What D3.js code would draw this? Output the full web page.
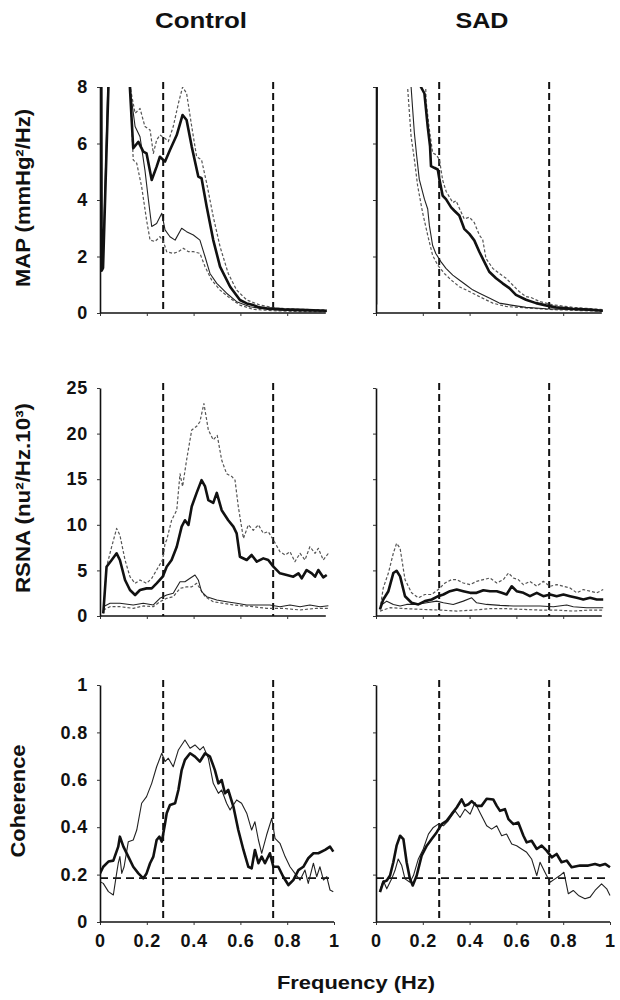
<!DOCTYPE html>
<html><head><meta charset="utf-8">
<script src="https://cdn.jsdelivr.net/npm/d3@7"></script>
<style>
body{margin:0;background:#fff}
svg{display:block}
text{font-family:"Liberation Sans",Arial,Helvetica,sans-serif;font-weight:bold;fill:#111}
</style>
</head><body>
<svg id="chart" width="620" height="1000"></svg>
<script>
// ---------------- data ----------------
const columns = ["Control", "SAD"];
const rowLabels = ["MAP (mmHg²/Hz)", "RSNA (nu²/Hz.10³)", "Coherence"];
const xLabel = "Frequency (Hz)";
const yMaxes = [8, 25, 1];
const yTickValues = [[0, 2, 4, 6, 8], [0, 5, 10, 15, 20, 25], [0, 0.2, 0.4, 0.6, 0.8, 1]];
const xTickValues = [0, 0.2, 0.4, 0.6, 0.8, 1];
const bandLimits = [0.27, 0.74];
const coherenceThreshold = 0.185;

// MAP spectra, Control
const mapControlThick = [[0.005,12],[0.007,1.5],[0.013,1.6],[0.036,8],[0.04,12],[0.122,12],[0.128,7.95],[0.142,5.83],[0.164,6.06],[0.185,5.71],[0.199,5.65],[0.221,4.71],[0.242,5.18],[0.256,5.53],[0.278,5.36],[0.299,5.77],[0.328,6.30],[0.353,7.01],[0.370,6.83],[0.392,5.89],[0.420,4.83],[0.434,4.77],[0.456,3.76],[0.484,2.58],[0.513,1.64],[0.556,0.93],[0.598,0.46],[0.627,0.34],[0.655,0.28],[0.68,0.2],[0.712,0.17],[0.783,0.13],[0.855,0.11],[0.969,0.08]];
const mapControlUpper = [[0.125,12],[0.131,7.9],[0.15,7.07],[0.171,7.24],[0.192,6.6],[0.214,6.48],[0.228,5.65],[0.242,6.12],[0.256,6.3],[0.278,6.18],[0.292,6.07],[0.313,6.6],[0.335,7.42],[0.353,8.0],[0.37,7.78],[0.392,6.6],[0.413,5.53],[0.434,5.42],[0.456,4.59],[0.484,3.41],[0.513,2.35],[0.548,1.4],[0.584,0.81],[0.627,0.46],[0.684,0.28],[0.755,0.17],[0.855,0.13],[0.969,0.11]];
const mapControlThin = [[0.004,12],[0.006,1.6],[0.012,1.7],[0.035,8.5],[0.04,12],[0.125,12],[0.131,7.78],[0.15,6.6],[0.171,6.24],[0.192,5.06],[0.207,4.0],[0.221,3.06],[0.242,3.17],[0.264,3.53],[0.278,2.94],[0.299,2.7],[0.321,2.58],[0.349,3.0],[0.37,2.88],[0.399,2.76],[0.427,2.58],[0.449,1.99],[0.470,1.4],[0.499,1.05],[0.541,0.7],[0.584,0.4],[0.641,0.22],[0.712,0.13],[0.826,0.08],[0.969,0.07]];
const mapControlLower = [[0.126,12],[0.131,7.54],[0.142,5.42],[0.157,5.3],[0.178,4.47],[0.199,3.29],[0.214,2.58],[0.235,2.53],[0.256,2.7],[0.271,2.53],[0.285,2.17],[0.313,2.11],[0.335,2.17],[0.356,2.29],[0.378,2.17],[0.399,2.17],[0.427,2.11],[0.449,1.64],[0.477,1.17],[0.513,0.81],[0.556,0.52],[0.598,0.28],[0.655,0.13],[0.741,0.08],[0.855,0.05],[0.969,0.05]];

// MAP spectra, SAD
const mapSadThick = [[0.0,0.3],[0.004,12],[0.186,12],[0.192,8.0],[0.207,7.77],[0.214,7.18],[0.221,6.6],[0.231,5.9],[0.235,5.2],[0.249,5.14],[0.264,5.08],[0.271,4.73],[0.285,4.15],[0.299,4.03],[0.321,3.74],[0.335,3.62],[0.356,3.45],[0.377,2.98],[0.399,2.8],[0.42,2.57],[0.442,2.16],[0.463,1.81],[0.484,1.46],[0.513,1.23],[0.541,1.05],[0.57,0.88],[0.598,0.64],[0.641,0.47],[0.684,0.35],[0.726,0.27],[0.769,0.2],[0.84,0.15],[0.912,0.12],[0.969,0.08]];
const mapSadUpper = [[0.2,12],[0.214,7.5],[0.228,6.5],[0.242,5.67],[0.257,5.6],[0.271,5.43],[0.285,4.7],[0.3,4.3],[0.328,3.91],[0.342,3.97],[0.377,3.33],[0.399,3.39],[0.42,3.2],[0.442,2.75],[0.456,2.6],[0.47,1.93],[0.499,1.58],[0.527,1.4],[0.556,1.23],[0.584,0.99],[0.612,0.76],[0.641,0.58],[0.662,0.55],[0.698,0.41],[0.755,0.29],[0.84,0.2],[0.969,0.12]];
const mapSadThin = [[0.145,12],[0.15,8.0],[0.157,7.18],[0.164,6.37],[0.174,5.55],[0.185,4.73],[0.207,4.03],[0.221,3.68],[0.228,3.1],[0.242,2.39],[0.256,2.1],[0.278,1.81],[0.299,1.58],[0.328,1.34],[0.356,1.17],[0.385,0.99],[0.413,0.82],[0.442,0.7],[0.484,0.53],[0.527,0.35],[0.584,0.27],[0.641,0.2],[0.726,0.15],[0.84,0.12],[0.969,0.08]];
const mapSadLower = [[0.13,12],[0.135,8.0],[0.142,7.18],[0.15,6.25],[0.164,5.43],[0.178,4.5],[0.199,3.56],[0.221,2.75],[0.242,2.04],[0.264,1.69],[0.292,1.4],[0.321,1.17],[0.356,0.93],[0.399,0.76],[0.442,0.58],[0.499,0.35],[0.556,0.23],[0.641,0.18],[0.755,0.12],[0.969,0.06]];

// RSNA spectra, Control
const rsnaControlThick = [[0.014,0.29],[0.028,5.4],[0.05,6.14],[0.071,6.87],[0.085,6.14],[0.107,3.95],[0.128,2.85],[0.15,2.3],[0.171,2.85],[0.199,3.03],[0.221,3.03],[0.242,3.58],[0.268,4.31],[0.285,5.41],[0.306,6.14],[0.328,7.6],[0.349,9.8],[0.363,10.5],[0.378,9.98],[0.392,12.0],[0.413,13.5],[0.434,14.9],[0.449,14.2],[0.463,12.7],[0.484,12.4],[0.499,13.5],[0.520,11.6],[0.548,10.5],[0.570,9.8],[0.584,9.06],[0.598,6.5],[0.627,6.14],[0.648,6.69],[0.670,5.96],[0.698,6.32],[0.719,6.14],[0.741,5.41],[0.769,4.68],[0.798,4.5],[0.826,4.31],[0.848,4.68],[0.862,4.13],[0.883,5.04],[0.905,4.68],[0.919,4.31],[0.933,5.04],[0.954,4.24],[0.969,4.5]];
const rsnaControlUpper = [[0.014,0.29],[0.028,5.4],[0.05,7.6],[0.071,9.6],[0.085,8.88],[0.107,6.14],[0.128,4.31],[0.15,3.58],[0.171,3.95],[0.199,3.58],[0.221,4.13],[0.242,5.04],[0.268,6.2],[0.278,7.97],[0.285,8.33],[0.306,10.5],[0.328,11.6],[0.342,15.6],[0.353,14.2],[0.370,17.1],[0.392,20.4],[0.413,20.8],[0.427,21.3],[0.444,23.3],[0.463,20.4],[0.484,19.3],[0.501,19.8],[0.520,17.1],[0.541,15.6],[0.563,15.3],[0.577,14.9],[0.591,12.0],[0.613,8.5],[0.634,10.0],[0.655,9.4],[0.677,10.0],[0.698,9.06],[0.719,9.25],[0.741,8.33],[0.769,7.05],[0.791,6.69],[0.812,7.05],[0.833,5.96],[0.855,6.87],[0.876,6.14],[0.897,7.6],[0.919,6.87],[0.933,7.42],[0.954,6.14],[0.976,6.87]];
const rsnaControlThin = [[0.014,1.02],[0.043,1.39],[0.085,1.39],[0.142,1.21],[0.185,1.39],[0.228,1.21],[0.256,1.94],[0.285,2.3],[0.313,2.49],[0.342,3.76],[0.363,3.76],[0.385,4.13],[0.406,4.5],[0.420,3.95],[0.434,2.67],[0.456,2.12],[0.499,1.75],[0.541,1.57],[0.584,1.39],[0.627,1.21],[0.684,1.21],[0.726,1.21],[0.769,1.02],[0.812,1.21],[0.855,1.02],[0.897,1.21],[0.94,1.02],[0.976,1.13]];
const rsnaControlLower = [[0.014,0.66],[0.043,1.02],[0.085,1.02],[0.142,0.84],[0.185,1.1],[0.228,1.02],[0.256,1.57],[0.285,1.94],[0.313,2.12],[0.342,3.03],[0.37,3.2],[0.392,3.2],[0.413,3.58],[0.427,3.03],[0.449,2.12],[0.484,1.57],[0.570,1.21],[0.655,1.02],[0.712,0.84],[0.783,0.84],[0.855,0.66],[0.926,0.84],[0.976,0.84]];

// RSNA spectra, SAD
const rsnaSadThick = [[0.017,0.72],[0.031,1.81],[0.053,2.72],[0.074,4.71],[0.088,4.96],[0.103,4.35],[0.124,2.17],[0.152,1.45],[0.181,1.27],[0.209,1.63],[0.238,1.81],[0.266,2.17],[0.288,2.36],[0.316,2.72],[0.345,2.9],[0.373,2.72],[0.402,2.54],[0.430,2.54],[0.459,2.83],[0.487,2.72],[0.516,2.72],[0.537,2.54],[0.558,2.36],[0.580,3.26],[0.601,2.72],[0.630,2.54],[0.658,2.17],[0.687,2.54],[0.715,2.17],[0.744,2.36],[0.772,2.17],[0.801,2.36],[0.829,2.17],[0.858,1.99],[0.886,1.81],[0.915,1.99],[0.943,1.81],[0.971,1.81]];
const rsnaSadUpper = [[0.017,0.72],[0.031,3.08],[0.053,4.71],[0.074,6.88],[0.088,7.97],[0.103,7.43],[0.124,3.99],[0.152,2.54],[0.181,1.99],[0.209,2.36],[0.238,2.36],[0.266,2.9],[0.295,3.62],[0.323,3.99],[0.345,3.99],[0.373,3.62],[0.402,3.44],[0.43,3.8],[0.459,3.99],[0.487,4.17],[0.516,3.62],[0.544,3.99],[0.566,4.71],[0.587,4.17],[0.608,3.99],[0.630,3.44],[0.658,3.8],[0.687,3.26],[0.715,3.8],[0.744,3.26],[0.772,3.44],[0.801,3.26],[0.829,3.08],[0.858,2.54],[0.886,2.9],[0.915,2.72],[0.943,2.54],[0.971,2.9]];
const rsnaSadThin = [[0.017,1.09],[0.046,1.63],[0.074,1.27],[0.103,1.09],[0.131,1.27],[0.174,1.27],[0.217,1.45],[0.259,1.63],[0.288,1.45],[0.33,1.27],[0.373,1.63],[0.409,1.99],[0.43,1.45],[0.473,1.27],[0.53,1.16],[0.587,1.09],[0.644,1.09],[0.701,1.09],[0.758,1.01],[0.815,1.2],[0.843,1.01],[0.9,0.91],[0.971,0.91]];
const rsnaSadLower = [[0.017,0.54],[0.06,0.91],[0.131,0.8],[0.202,0.72],[0.273,0.65],[0.345,0.54],[0.416,0.65],[0.487,0.8],[0.558,0.8],[0.63,0.72],[0.701,0.65],[0.772,0.65],[0.843,0.54],[0.915,0.65],[0.971,0.65]];

// Coherence, Control
const cohControlThick = [[0,0.205],[0.014,0.233],[0.036,0.255],[0.057,0.259],[0.078,0.318],[0.085,0.36],[0.1,0.318],[0.121,0.276],[0.142,0.233],[0.164,0.205],[0.185,0.184],[0.199,0.205],[0.214,0.248],[0.228,0.276],[0.242,0.346],[0.254,0.36],[0.264,0.339],[0.278,0.416],[0.285,0.459],[0.299,0.494],[0.321,0.501],[0.335,0.557],[0.349,0.641],[0.363,0.684],[0.385,0.712],[0.406,0.698],[0.427,0.677],[0.449,0.712],[0.470,0.698],[0.491,0.641],[0.506,0.585],[0.52,0.599],[0.534,0.543],[0.548,0.557],[0.570,0.487],[0.591,0.388],[0.613,0.304],[0.634,0.233],[0.648,0.226],[0.662,0.304],[0.677,0.248],[0.691,0.276],[0.705,0.248],[0.726,0.290],[0.741,0.233],[0.762,0.233],[0.783,0.191],[0.805,0.156],[0.826,0.177],[0.848,0.219],[0.869,0.233],[0.890,0.269],[0.912,0.290],[0.933,0.290],[0.962,0.304],[0.983,0.318],[0.997,0.297]];
const cohControlThin = [[0.0,0.17],[0.014,0.163],[0.036,0.128],[0.057,0.114],[0.071,0.205],[0.078,0.248],[0.085,0.276],[0.093,0.205],[0.103,0.233],[0.121,0.339],[0.142,0.346],[0.157,0.388],[0.178,0.501],[0.199,0.529],[0.221,0.585],[0.242,0.655],[0.264,0.712],[0.278,0.677],[0.292,0.691],[0.313,0.655],[0.335,0.726],[0.363,0.768],[0.385,0.733],[0.406,0.747],[0.427,0.726],[0.442,0.740],[0.463,0.691],[0.484,0.585],[0.506,0.543],[0.520,0.557],[0.541,0.501],[0.556,0.473],[0.584,0.515],[0.605,0.501],[0.627,0.459],[0.648,0.388],[0.662,0.423],[0.677,0.346],[0.691,0.290],[0.712,0.367],[0.734,0.437],[0.748,0.353],[0.769,0.332],[0.791,0.276],[0.812,0.233],[0.833,0.205],[0.855,0.177],[0.876,0.219],[0.890,0.163],[0.912,0.248],[0.926,0.191],[0.940,0.233],[0.955,0.177],[0.969,0.191],[0.983,0.135],[0.997,0.128]];

// Coherence, SAD
const cohSadThick = [[0.017,0.126],[0.031,0.168],[0.046,0.175],[0.06,0.196],[0.074,0.252],[0.088,0.322],[0.103,0.364],[0.117,0.35],[0.131,0.252],[0.145,0.182],[0.157,0.154],[0.174,0.196],[0.195,0.28],[0.217,0.322],[0.238,0.35],[0.259,0.378],[0.281,0.413],[0.302,0.427],[0.323,0.455],[0.345,0.483],[0.366,0.517],[0.38,0.49],[0.395,0.497],[0.409,0.51],[0.43,0.49],[0.451,0.49],[0.473,0.52],[0.501,0.517],[0.516,0.49],[0.53,0.469],[0.551,0.476],[0.566,0.434],[0.587,0.413],[0.608,0.42],[0.63,0.364],[0.644,0.336],[0.665,0.343],[0.687,0.308],[0.708,0.322],[0.729,0.301],[0.751,0.273],[0.772,0.287],[0.793,0.252],[0.815,0.259],[0.836,0.231],[0.872,0.238],[0.907,0.238],[0.936,0.245],[0.957,0.238],[0.979,0.245],[1.0,0.231]];
const cohSadThin = [[0.017,0.133],[0.031,0.175],[0.046,0.14],[0.067,0.182],[0.081,0.217],[0.095,0.266],[0.11,0.238],[0.124,0.182],[0.145,0.168],[0.16,0.196],[0.181,0.266],[0.202,0.308],[0.224,0.371],[0.245,0.399],[0.266,0.413],[0.288,0.406],[0.309,0.427],[0.338,0.469],[0.359,0.441],[0.38,0.476],[0.402,0.455],[0.423,0.504],[0.444,0.462],[0.473,0.406],[0.494,0.392],[0.516,0.406],[0.537,0.364],[0.558,0.371],[0.58,0.329],[0.601,0.322],[0.622,0.308],[0.644,0.294],[0.665,0.266],[0.687,0.196],[0.701,0.252],[0.722,0.21],[0.744,0.168],[0.765,0.182],[0.786,0.196],[0.803,0.21],[0.822,0.119],[0.843,0.133],[0.865,0.112],[0.893,0.098],[0.915,0.105],[0.936,0.133],[0.964,0.161],[0.986,0.14],[1.0,0.112]];

// ---------------- layout ----------------
const colRanges = [[100, 334], [376, 610]];
const rowRanges = [[313, 87], [616, 388], [922, 685]];
const axisEnds = [0.965, 0.965, 1];

const styles = {
  thick: {w: 2.6, dash: null, color: "#111"},
  thin:  {w: 1.1, dash: null, color: "#222"},
  dot:   {w: 1.2, dash: "3,2", color: "#555"}
};

const panels = [
  [[mapControlLower,"dot"],[mapControlUpper,"dot"],[mapControlThin,"thin"],[mapControlThick,"thick"]],
  [[mapSadLower,"dot"],[mapSadUpper,"dot"],[mapSadThin,"thin"],[mapSadThick,"thick"]],
  [[rsnaControlLower,"dot"],[rsnaControlUpper,"dot"],[rsnaControlThin,"thin"],[rsnaControlThick,"thick"]],
  [[rsnaSadLower,"dot"],[rsnaSadUpper,"dot"],[rsnaSadThin,"thin"],[rsnaSadThick,"thick"]],
  [[cohControlThin,"thin"],[cohControlThick,"thick"]],
  [[cohSadThin,"thin"],[cohSadThick,"thick"]]
];

const svg = d3.select("#chart");
const defs = svg.append("defs");

rowRanges.forEach((yr, r) => {
  colRanges.forEach((xr, c) => {
    const x = d3.scaleLinear().domain([0, 1]).range(xr);
    const y = d3.scaleLinear().domain([0, yMaxes[r]]).range(yr);
    const g = svg.append("g");
    const id = `clip${r}${c}`;
    defs.append("clipPath").attr("id", id).append("rect")
      .attr("x", xr[0]).attr("y", yr[1]).attr("width", xr[1] - xr[0] + 4).attr("height", yr[0] - yr[1] + 1);

    // band limit dashed lines
    bandLimits.forEach(b => {
      g.append("line").attr("x1", x(b)).attr("x2", x(b))
        .attr("y1", y(yMaxes[r]) - 5).attr("y2", y(0))
        .attr("stroke", "#111").attr("stroke-width", 2).attr("stroke-dasharray", "7,4");
    });
    if (r === 2) {
      g.append("line").attr("x1", x(0)).attr("x2", x(1))
        .attr("y1", y(coherenceThreshold)).attr("y2", y(coherenceThreshold))
        .attr("stroke", "#111").attr("stroke-width", 1.8).attr("stroke-dasharray", "8,5");
    }

    // series
    const line = d3.line().x(d => x(d[0])).y(d => y(d[1]));
    const cg = g.append("g").attr("clip-path", `url(#${id})`);
    panels[r * 2 + c].forEach(([data, st]) => {
      const s = styles[st];
      cg.append("path").datum(data).attr("d", line)
        .attr("fill", "none").attr("stroke", s.color).attr("stroke-width", s.w)
        .attr("stroke-linejoin", "round")
        .attr("stroke-dasharray", s.dash);
    });

    // axes
    const xa = d3.axisBottom(x).tickValues(xTickValues).tickSize(3).tickSizeOuter(0)
      .tickFormat(r === 2 ? d => String(d) : "");
    const gx = g.append("g").attr("transform", `translate(0,${yr[0]})`).call(xa);
    gx.select(".domain").attr("d", `M${x(0)},0H${x(axisEnds[r])}`).attr("stroke", "#111").attr("stroke-width", 1.6);
    gx.selectAll(".tick").filter(d => d > axisEnds[r]).select("line").remove();
    gx.selectAll(".tick line").attr("stroke", "#333");
    gx.selectAll(".tick text").attr("font-size", 18).attr("font-weight", "bold").attr("letter-spacing", 0.8)
      .attr("font-family", '"Liberation Sans",Arial,sans-serif').attr("fill", "#111").attr("dy", "1.05em");

    const ya = d3.axisLeft(y).tickValues(yTickValues[r]).tickSize(3).tickSizeOuter(0)
      .tickFormat(c === 0 ? d => String(d) : "");
    const gy = g.append("g").attr("transform", `translate(${xr[0]},0)`).call(ya);
    gy.select(".domain").attr("stroke", "#111").attr("stroke-width", 1.6);
    gy.selectAll(".tick line").attr("stroke", "#333");
    gy.selectAll(".tick text").attr("font-size", 18).attr("font-weight", "bold").attr("letter-spacing", 0.8)
      .attr("font-family", '"Liberation Sans",Arial,sans-serif').attr("fill", "#111").attr("x", -12);
  });
});

// column titles
const titleCenters = [201, 482];
const titleLengths = [92, 53];
columns.forEach((t, i) => {
  svg.append("text").attr("x", titleCenters[i]).attr("y", 28).attr("text-anchor", "middle")
    .attr("font-size", 22).attr("textLength", titleLengths[i]).attr("lengthAdjust", "spacingAndGlyphs").text(t);
});

// row labels
const labelCenters = [198, 498, 801];
const labelBaselines = [30, 30, 25];
const labelLengths = [178, 190, 113];
rowLabels.forEach((t, i) => {
  svg.append("text").attr("transform", `translate(${labelBaselines[i]},${labelCenters[i]}) rotate(-90)`)
    .attr("text-anchor", "middle").attr("font-size", 20)
    .attr("textLength", labelLengths[i]).attr("lengthAdjust", "spacingAndGlyphs").text(t);
});

svg.append("text").attr("x", 356).attr("y", 989).attr("text-anchor", "middle").attr("font-size", 19)
  .attr("textLength", 158).attr("lengthAdjust", "spacingAndGlyphs").text(xLabel);
</script>
</body></html>
